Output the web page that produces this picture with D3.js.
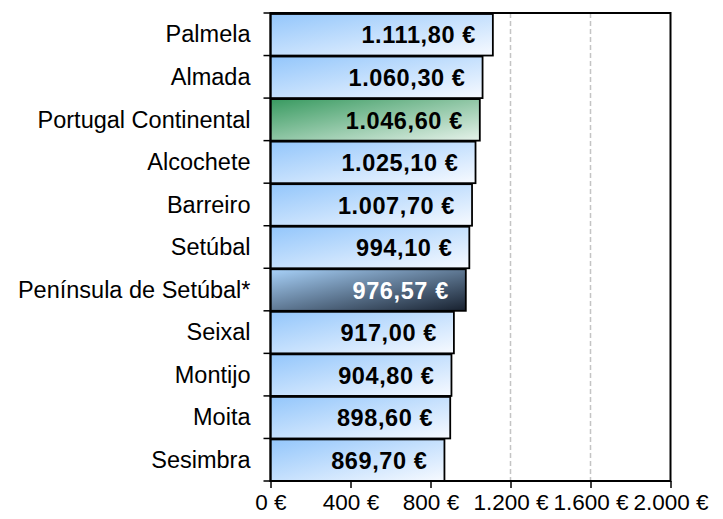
<!DOCTYPE html>
<html><head><meta charset="utf-8">
<script src="https://cdn.jsdelivr.net/npm/d3@7"></script>
<style>body{margin:0;background:#fff}svg{display:block;font-family:"Liberation Sans",Arial,sans-serif}</style>
</head><body>
<svg id="c" width="723" height="519"></svg>
<script>
const categories = ["Palmela","Almada","Portugal Continental","Alcochete","Barreiro","Setúbal","Península de Setúbal*","Seixal","Montijo","Moita","Sesimbra"];
const values = [1111.80,1060.30,1046.60,1025.10,1007.70,994.10,976.57,917.00,904.80,898.60,869.70];
const kinds = ["blue","blue","green","blue","blue","blue","dark","blue","blue","blue","blue"];
const xTicks = [0,400,800,1200,1600,2000];

const svg = d3.select("#c");
const m = {l:270.5, r:670.5, t:13, b:481};
const x = d3.scaleLinear().domain([0,2000]).range([m.l, m.r]);
const y = d3.scaleBand().domain(categories).range([m.t, m.b]).padding(0);
const loc = d3.formatLocale({decimal:",", thousands:".", grouping:[3], currency:["",""]});
const f2 = loc.format(",.2f"), f0 = loc.format(",.0f");

const defs = svg.append("defs");
const grads = {blue:["#93c6fb","#f7faff"], green:["#389a60","#e6f2ea"], dark:["#a8d2fa","#17202e"]};
Object.entries(grads).forEach(([k,[a,b]])=>{
  const g = defs.append("linearGradient").attr("id","g-"+k).attr("x1",0).attr("y1",0).attr("x2",1).attr("y2",1);
  g.append("stop").attr("offset","0%").attr("stop-color",a);
  g.append("stop").attr("offset","100%").attr("stop-color",b);
});

// grid
svg.append("g").selectAll("line").data(xTicks.slice(1,-1)).join("line")
  .attr("x1",d=>x(d)).attr("x2",d=>x(d)).attr("y1",m.t).attr("y2",m.b)
  .attr("stroke","#c4c4c4").attr("stroke-width",1.5).attr("stroke-dasharray","5,3");

// bars
svg.append("g").selectAll("rect").data(categories).join("rect")
  .attr("x",x(0)).attr("y",d=>y(d)+1)
  .attr("width",(d,i)=>x(values[i])-x(0)).attr("height",y.bandwidth()-1)
  .attr("fill",(d,i)=>`url(#g-${kinds[i]})`)
  .attr("stroke","#000").attr("stroke-width",1.8);

// value labels
svg.append("g").selectAll("text").data(categories).join("text")
  .attr("x",(d,i)=>x(values[i])-17).attr("y",d=>y(d)+y.bandwidth()/2+1)
  .attr("dy","0.35em").attr("text-anchor","end")
  .attr("font-size",23.5).attr("font-weight","bold").attr("letter-spacing",0.6)
  .attr("fill",(d,i)=>kinds[i]==="dark"?"#fff":"#000")
  .text((d,i)=>f2(values[i])+" €");

// box
svg.append("rect").attr("x",m.l).attr("y",m.t).attr("width",m.r-m.l).attr("height",m.b-m.t)
  .attr("fill","none").attr("stroke","#000").attr("stroke-width",2);

// left axis
const ya = svg.append("g").attr("transform",`translate(${m.l},0)`);
const bounds = categories.map(d=>y(d)).concat([m.b]);
ya.selectAll("line").data(bounds).join("line")
  .attr("x1",-7).attr("x2",0).attr("y1",d=>d).attr("y2",d=>d).attr("stroke","#000").attr("stroke-width",1.5);
ya.selectAll("text").data(categories).join("text")
  .attr("x",-20).attr("y",d=>y(d)+y.bandwidth()/2).attr("dy","0.35em").attr("text-anchor","end")
  .attr("font-size",23.5).attr("fill","#000").text(d=>d);

// bottom axis
const xa = svg.append("g").attr("transform",`translate(0,${m.b})`)
  .call(d3.axisBottom(x).tickValues(xTicks).tickSize(7).tickPadding(6).tickFormat(d=>f0(d)+" €"));
xa.select(".domain").remove();
xa.selectAll("line").attr("stroke","#000").attr("stroke-width",1.5);
xa.selectAll("text").attr("font-size",22.5).attr("fill","#000")
  .attr("font-family","Liberation Sans, Arial, sans-serif");
</script>
</body></html>
